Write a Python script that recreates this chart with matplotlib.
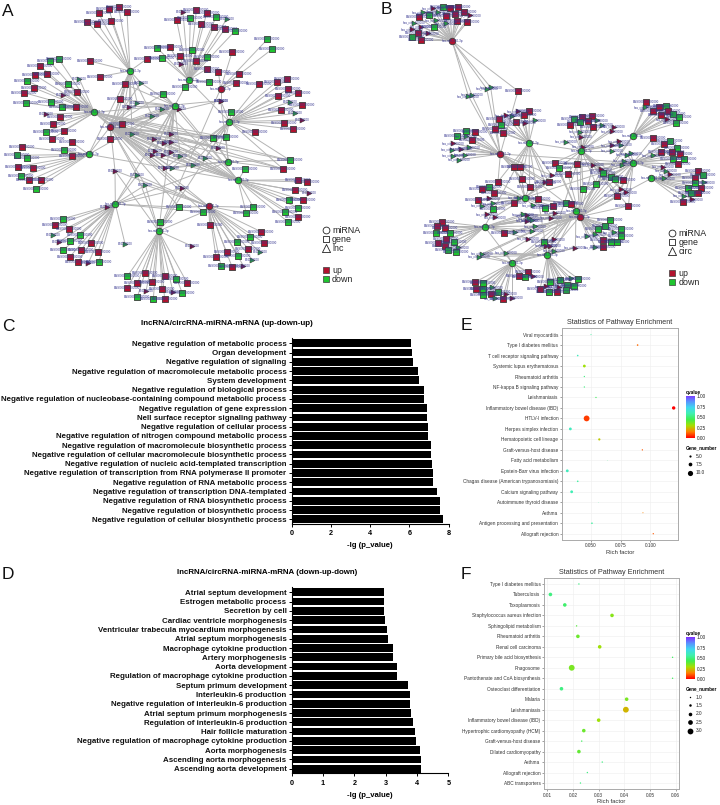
"""
Network panels A/B, GO bar panels C/D and pathway bubble panels E/F
"""
import matplotlib
matplotlib.use("Agg")
import matplotlib.pyplot as plt
from matplotlib.colors import LinearSegmentedColormap
import numpy as np

plt.rcParams["font.family"] = ["Liberation Sans", "DejaVu Sans"]

W, H = 720, 805

# Network A: hubs (x, y, colour), layout units are 3 per image pixel
A_HUBS = [(390, 213, "g"), (566, 240, "g"), (662, 266, "r"), (524, 317, "g"), (283, 337, "g"),
          (688, 365, "g"), (331, 380, "r"), (266, 463, "g"), (685, 485, "g"), (714, 541, "g"),
          (346, 612, "g"), (626, 619, "r"), (476, 693, "g")]
# groups of (hubs, leaves); a leaf is (x, y, shape+colour)
A_TOP = [(356, 22, "sr"), (326, 28, "sr"), (381, 36, "sr"), (296, 40, "sr"), (334, 62, "sr"), (262, 65, "sr"),
         (292, 71, "sr"), (269, 183, "sr"), (299, 230, "sr"), (440, 177, "sr")]
A_TOP_RIGHT = [(549, 37, "tr"), (589, 31, "sr"), (620, 40, "sr"), (571, 55, "sg"), (648, 51, "sg"), (680, 57, "tg"),
               (530, 61, "sr"), (604, 71, "sr"), (641, 82, "sr"), (674, 88, "sr"), (704, 94, "sg"), (472, 144, "sg"),
               (510, 141, "sr"), (575, 151, "sg"), (539, 167, "sr"), (487, 173, "sg"), (622, 172, "sg"), (587, 183, "sr"),
               (544, 193, "tr"), (620, 207, "sr"), (627, 247, "sg"), (554, 260, "sg")]
A_RED_HUB = [(802, 118, "sg"), (817, 147, "sg"), (696, 157, "sr"), (655, 215, "sr"), (717, 223, "sr"), (709, 249, "sr"),
             (662, 302, "tr")]
A_RIGHT = [(778, 253, "sr"), (830, 245, "sr"), (862, 238, "sr"), (864, 268, "sr"), (893, 278, "sr"), (835, 288, "sr"),
           (870, 306, "tg"), (905, 315, "sr"), (844, 331, "sr"), (884, 340, "tg"), (906, 360, "tr"), (853, 370, "sr"),
           (880, 388, "sr"), (766, 396, "sr"), (694, 336, "sg")]
A_LEFT = [(176, 176, "sg"), (149, 184, "sg"), (119, 197, "sr"), (106, 226, "sr"), (141, 223, "sr"), (82, 243, "sg"),
          (238, 237, "tg"), (205, 253, "sg"), (103, 264, "sr"), (72, 278, "sr"), (231, 275, "sr"), (190, 285, "tr"),
          (77, 308, "sg"), (154, 307, "sg"), (185, 321, "sg"), (227, 321, "sr"), (137, 343, "tr"), (179, 350, "sr"),
          (158, 372, "sr"), (139, 395, "sg"), (191, 392, "sr"), (155, 417, "sr")]
A_LOWER_LEFT = [(216, 427, "sr"), (66, 440, "sr"), (191, 451, "sg"), (217, 469, "sr"), (50, 466, "sg"), (82, 475, "sg"),
                (54, 500, "sr"), (98, 505, "sr"), (64, 529, "sg"), (88, 541, "sr"), (124, 541, "sr"), (107, 568, "sg")]
A_BOTTOM_LEFT = [(322, 620, "tr"), (190, 656, "sg"), (165, 676, "sr"), (208, 686, "sr"), (160, 704, "tg"), (241, 704, "sg"),
                 (211, 723, "sg"), (176, 727, "tr"), (273, 730, "sr"), (190, 750, "sg"), (243, 750, "sr"), (294, 755, "sr"),
                 (210, 770, "sr"), (235, 785, "sr"), (265, 789, "tr"), (297, 785, "sg"), (375, 731, "tg")]
A_BOTTOM = [(481, 667, "sg"), (577, 739, "tr"), (382, 829, "sg"), (434, 820, "sr"), (494, 828, "sr"), (529, 837, "sg"),
            (561, 848, "sr"), (412, 850, "sr"), (457, 846, "sr"), (381, 865, "sr"), (486, 866, "sr"), (438, 873, "tr"),
            (519, 875, "tr"), (547, 880, "sg"), (412, 891, "sg"), (460, 896, "sg"), (494, 898, "sr")]
A_BOTTOM_RIGHT = [(629, 675, "sr"), (783, 695, "sr"), (751, 711, "sg"), (791, 728, "sr"), (712, 727, "sg"), (745, 746, "sr"),
                  (680, 757, "sr"), (781, 757, "tg"), (714, 767, "sg"), (648, 772, "sr"), (757, 779, "tg"), (663, 799, "sg"),
                  (696, 800, "sr"), (730, 797, "tr")]
A_LOW_RIGHT = [(893, 539, "sr"), (920, 546, "sr"), (884, 571, "sr"), (928, 579, "tr"), (867, 600, "sg"), (908, 600, "sr"),
               (895, 624, "sg"), (855, 635, "sg"), (895, 651, "sr"), (865, 667, "sg"), (735, 508, "sg")]
A_CENTRE_1 = [(374, 252, "sr"), (423, 249, "tg"), (361, 298, "sr"), (412, 310, "tg"), (388, 320, "tr"), (457, 347, "tg"),
              (365, 373, "sr"), (396, 402, "tg"), (331, 418, "sr")]
A_CENTRE_2 = [(486, 326, "tg"), (538, 326, "tr"), (490, 282, "sg"), (462, 416, "tr"), (512, 403, "tr"), (493, 430, "tr"),
              (512, 425, "tr"), (464, 454, "tr"), (456, 466, "tr"), (490, 466, "tr"), (512, 457, "tr"), (541, 469, "tg")]
A_CENTRE_3 = [(662, 302, "tr"), (655, 444, "tr"), (640, 414, "sg"), (678, 412, "sg"), (616, 473, "tg"), (578, 494, "tg"),
              (496, 503, "tr"), (516, 504, "tg"), (870, 481, "sg"), (848, 506, "sr")]
A_CENTRE_4 = [(345, 512, "tr"), (411, 526, "tg"), (436, 555, "tg"), (546, 565, "tr"), (538, 622, "sg"), (610, 636, "sg")]
A_LOW_MID = [(760, 622, "sg"), (739, 640, "sg")]
A_GROUPS = [((0,), A_TOP), ((1,), A_TOP_RIGHT), ((2,), A_RED_HUB), ((5,), A_RIGHT), ((4,), A_LEFT), ((7,), A_LOWER_LEFT),
            ((10,), A_BOTTOM_LEFT), ((12,), A_BOTTOM), ((11,), A_BOTTOM_RIGHT), ((9,), A_LOW_RIGHT), ((0, 6, 3), A_CENTRE_1),
            ((3, 6, 9), A_CENTRE_2), ((5, 8, 6, 4), A_CENTRE_3), ((6, 10, 12, 11), A_CENTRE_4), ((9, 11), A_LOW_MID)]
A_HUB_LINKS = [(3, 1), (3, 7), (6, 7), (6, 4), (6, 11), (3, 10), (3, 12), (4, 9), (0, 7), (1, 5), (2, 12), (7, 9), (10, 8), (5, 12)]

# Network B
B_HUBS = [(276, 122, "r"), (507, 428, "g"), (421, 462, "r"), (664, 452, "g"), (818, 409, "g"), (820, 488, "g"),
          (874, 535, "g"), (494, 593, "g"), (648, 633, "g"), (659, 650, "r"), (374, 680, "g"), (456, 788, "g"), (562, 766, "g")]
B_TOP = [(293, 22, "sr"), (248, 20, "sg"), (269, 25, "sr"), (218, 24, "tr"), (234, 35, "tg"), (311, 36, "sr"), (208, 45, "sg"),
         (176, 52, "sr"), (258, 47, "sr"), (285, 42, "sr"), (330, 45, "tr"), (190, 36, "tg"), (228, 60, "tg"), (163, 68, "tg"),
         (258, 70, "tg"), (292, 63, "sr"), (322, 66, "sr"), (223, 81, "sg"), (155, 88, "tr"), (184, 80, "tr"), (175, 98, "sr"),
         (205, 100, "tr"), (157, 112, "sg"), (183, 121, "sr")]
B_LINK_TOP = [(392, 262, "tg"), (380, 266, "tg"), (474, 273, "sr"), (325, 288, "tg"), (335, 284, "tg")]
B_CL_1 = [(508, 332, "sr"), (475, 334, "tr"), (456, 347, "tg"), (437, 346, "tr"), (492, 345, "sr"), (417, 358, "sr"),
          (467, 365, "sr"), (524, 360, "tg"), (494, 368, "tr"), (423, 376, "sg"), (406, 388, "sr"), (430, 400, "sr")]
B_CL_3 = [(642, 356, "sg"), (666, 350, "sr"), (697, 348, "sr"), (685, 362, "sr"), (661, 367, "sg"), (712, 360, "tg"),
          (630, 374, "sr"), (700, 380, "sr"), (727, 374, "tg"), (762, 380, "tr"), (755, 394, "tr"), (661, 395, "tg"),
          (664, 410, "tr"), (670, 440, "tr"), (619, 425, "tg"), (757, 436, "tr"), (778, 423, "tr"), (783, 434, "tg"), (757, 452, "tg")]
B_CL_4 = [(857, 306, "sr"), (855, 322, "tg"), (896, 322, "sr"), (917, 319, "sg"), (878, 333, "sr"), (924, 333, "sr"),
          (902, 344, "sr"), (940, 343, "sg"), (956, 352, "sg"), (922, 358, "tr"), (947, 370, "sg")]
B_CL_5 = [(879, 415, "sr"), (911, 432, "sr"), (931, 423, "sg"), (952, 445, "sg"), (903, 456, "sr"), (936, 456, "sr"),
          (959, 463, "sr"), (880, 466, "tg"), (939, 477, "sg"), (972, 476, "sg"), (955, 492, "sr"), (800, 464, "tg"),
          (812, 460, "tg"), (792, 482, "tg"), (787, 494, "tg"), (908, 500, "tr"), (918, 512, "tg"), (931, 522, "tr")]
B_CL_6 = [(1015, 514, "sr"), (1029, 526, "sg"), (1005, 533, "sr"), (1032, 546, "tg"), (1004, 550, "sg"), (1022, 563, "sr"),
          (985, 563, "sg"), (992, 580, "sg"), (1015, 579, "sr"), (971, 587, "tg"), (997, 598, "tr"), (969, 605, "sr"), (912, 534, "tg")]
B_CL_2 = [(318, 392, "sg"), (345, 396, "sr"), (290, 409, "sg"), (318, 408, "tg"), (337, 421, "sr"), (280, 430, "tr"),
          (326, 441, "tg"), (302, 446, "tr"), (277, 449, "tg"), (280, 467, "tg"), (314, 464, "tg"), (298, 479, "tg")]
B_CENTRE_1 = [(462, 501, "sr"), (480, 501, "sr"), (485, 538, "sr"), (414, 545, "sr"), (509, 561, "sr"), (566, 547, "sr"),
              (555, 547, "tr"), (575, 526, "tr")]
B_CENTRE_2 = [(584, 488, "sr"), (596, 505, "sg"), (650, 492, "sr"), (700, 494, "tr"), (724, 508, "tr"), (728, 518, "sg"),
              (624, 523, "sr"), (708, 551, "sg"), (752, 531, "sg"), (764, 538, "sg"), (788, 540, "sr"), (669, 568, "sg"),
              (770, 588, "sr"), (783, 568, "tr"), (797, 577, "tr"), (805, 618, "sr")]
B_CL_7 = [(387, 561, "sg"), (367, 567, "sr"), (402, 578, "sr"), (388, 595, "tr"), (354, 600, "sr"), (400, 610, "tg"),
          (366, 617, "tg"), (398, 628, "sg"), (380, 642, "tr"), (404, 651, "tr"), (463, 610, "sr"), (478, 593, "tg"),
          (533, 596, "sr"), (518, 616, "tg"), (556, 624, "sg"), (579, 618, "sr"), (617, 608, "sg"), (632, 612, "sr")]
B_CL_9 = [(585, 638, "tr"), (573, 653, "tr"), (502, 645, "tr"), (490, 642, "tg"), (500, 662, "tr"), (508, 655, "tg"),
          (516, 660, "tg"), (526, 678, "tg"), (516, 692, "tg"), (465, 695, "tg"), (431, 698, "sr"), (505, 716, "tr")]
B_CL_10 = [(247, 666, "sr"), (231, 679, "sr"), (255, 685, "sr"), (228, 698, "sg"), (270, 700, "sg"), (257, 718, "sr"),
           (281, 725, "sg"), (235, 728, "sr"), (254, 738, "sr"), (293, 742, "tg"), (265, 750, "sg"), (289, 757, "sg")]
B_LOW_MID = [(552, 726, "sg"), (583, 718, "tr"), (571, 737, "tr"), (558, 737, "tr"), (646, 743, "tr"), (583, 752, "tg"),
             (438, 758, "tg"), (367, 761, "tg"), (358, 770, "tg")]
B_RIGHT_LOW = [(749, 660, "sg"), (736, 677, "sg"), (715, 686, "sg"), (762, 697, "tg"), (783, 686, "sg"), (783, 707, "sg"),
               (706, 703, "tg"), (682, 708, "tg"), (729, 721, "sr"), (770, 725, "sg"), (752, 727, "sg"), (706, 741, "tg"),
               (728, 740, "sr")]
B_BOTTOM_1 = [(504, 816, "sr"), (477, 827, "sr"), (495, 830, "sg"), (520, 829, "tr"), (344, 847, "sr"), (369, 848, "sg"),
              (349, 866, "sr"), (369, 866, "sg"), (370, 884, "sg"), (392, 883, "sr"), (415, 877, "sg"), (397, 862, "tg"),
              (439, 881, "tr"), (428, 897, "sr"), (456, 893, "tr"), (405, 895, "tg")]
B_BOTTOM_2 = [(571, 847, "sg"), (599, 841, "sg"), (632, 835, "tg"), (655, 837, "sg"), (620, 854, "sg"), (643, 857, "sg"),
              (558, 858, "tr"), (596, 860, "tr"), (540, 868, "sr"), (567, 875, "sg"), (592, 877, "sr"), (619, 870, "sg")]
B_GROUPS = [((0,), B_TOP), ((0, 2), B_LINK_TOP), ((1,), B_CL_1), ((3,), B_CL_3), ((4,), B_CL_4), ((5,), B_CL_5), ((6,), B_CL_6),
            ((2,), B_CL_2), ((1, 2, 7), B_CENTRE_1), ((3, 9, 5), B_CENTRE_2), ((7,), B_CL_7), ((9, 10), B_CL_9), ((10,), B_CL_10),
            ((12, 11, 8), B_LOW_MID), ((9,), B_RIGHT_LOW), ((11,), B_BOTTOM_1), ((12,), B_BOTTOM_2)]
B_HUB_LINKS = [(1, 3), (1, 10), (2, 5), (2, 8), (3, 9), (4, 9), (5, 7), (6, 9), (8, 11), (9, 12), (1, 12), (10, 11), (4, 8), (3, 12)]

# Panel C
C_TERMS = ["Negative regulation of metabolic process", "Organ development", "Negative regulation of signaling",
           "Negative regulation of macromolecule metabolic process", "System development",
           "Negative regulation of biological process",
           "Negative regulation of nucleobase-containing compound metabolic process",
           "Negative regulation of gene expression", "Nell surface receptor signaling pathway",
           "Negative regulation of cellular process", "Negative regulation of nitrogen compound metabolic process",
           "Negative regulation of macromolecule biosynthetic process",
           "Negative regulation of cellular macromolecule biosynthetic process",
           "Negative regulation of nucleic acid-templated transcription",
           "Negative regulation of transcription from RNA polymerase II promoter",
           "Negative regulation of RNA metabolic process", "Negative regulation of transcription DNA-templated",
           "Negative regulation of RNA biosynthetic process", "Negative regulation of biosynthetic process",
           "Negative regulation of cellular biosynthetic process"]
C_VALUES = [6.08, 6.13, 6.2, 6.44, 6.47, 6.73, 6.76, 6.9, 6.91, 6.93, 6.95, 7.08, 7.12, 7.15, 7.18, 7.22, 7.4, 7.56, 7.58, 7.73]

# Panel D
D_TERMS = ["Atrial septum development", "Estrogen metabolic process", "Secretion by cell", "Cardiac ventricle morphogenesis",
           "Ventricular trabecula myocardium morphogenesis", "Atrial septum morphogenesis", "Macrophage cytokine production",
           "Artery morphogenesis", "Aorta development", "Regulation of macrophage cytokine production",
           "Septum primum development", "Interleukin-6 production", "Negative regulation of interleukin-6 production",
           "Atrial septum primum morphogenesis", "Regulation of interleukin-6 production", "Hair follicle maturation",
           "Negative regulation of macrophage cytokine production", "Aorta morphogenesis", "Ascending aorta morphogenesis",
           "Ascending aorta development"]
D_VALUES = [2.94, 2.96, 2.96, 2.99, 3.03, 3.07, 3.22, 3.24, 3.37, 3.37, 3.71, 3.79, 3.79, 3.8, 3.87, 3.95, 3.97, 4.1, 4.14, 4.14]

# Panel E
E_PATHWAYS = ["Viral myocarditis", "Type I diabetes mellitus", "T cell receptor signaling pathway", "Systemic lupus erythematosus",
              "Rheumatoid arthritis", "NF-kappa B signaling pathway", "Leishmaniasis", "Inflammatory bowel disease (IBD)",
              "HTLV-I infection", "Herpes simplex infection", "Hematopoietic cell lineage", "Graft-versus-host disease",
              "Fatty acid metabolism", "Epstein-Barr virus infection", "Chagas disease (American trypanosomiasis)",
              "Calcium signaling pathway", "Autoimmune thyroid disease", "Asthma", "Antigen processing and presentation",
              "Allograft rejection"]
E_RICH = [0.05, 0.0893, 0.0388, 0.0444, 0.0444, 0.0444, 0.0542, 0.1197, 0.0463, 0.0326, 0.057, 0.0933, 0.064, 0.03, 0.0388,
          0.0337, 0.0562, 0.0938, 0.0508, 0.1025]
E_QVALUE = [0.55, 0.12, 0.6, 0.3, 0.5, 0.5, 0.45, 0.0, 0.07, 0.6, 0.25, 0.1, 0.5, 0.6, 0.55, 0.58, 0.55, 0.15, 0.55, 0.1]
E_GENES = [3, 4, 4, 6, 3.5, 3.5, 3.5, 7, 11, 6, 5, 3.5, 2, 6, 4, 6, 2, 3, 4, 3.5]
E_LEGEND = [5.0, 7.5, 10.0]

# Panel F
F_PATHWAYS = ["Type I diabetes mellitus", "Tuberculosis", "Toxoplasmosis", "Staphylococcus aureus infection",
              "Sphingolipid metabolism", "Rheumatoid arthritis", "Renal cell carcinoma", "Primary bile acid biosynthesis",
              "Phagosome", "Pantothenate and CoA biosynthesis", "Osteoclast differentiation", "Malaria", "Leishmaniasis",
              "Inflammatory bowel disease (IBD)", "Hypertrophic cardiomyopathy (HCM)", "Graft-versus-host disease",
              "Dilated cardiomyopathy", "Asthma", "Allograft rejection", "ABC transporters"]
F_RICH = [0.0223, 0.0112, 0.0168, 0.0352, 0.0214, 0.0219, 0.0304, 0.0588, 0.0195, 0.0588, 0.0155, 0.0409, 0.0406, 0.03, 0.0242,
          0.0234, 0.0223, 0.0314, 0.0256, 0.0229]
F_QVALUE = [0.5, 0.5, 0.47, 0.33, 0.4, 0.37, 0.3, 0.45, 0.35, 0.45, 0.5, 0.35, 0.22, 0.3, 0.37, 0.45, 0.38, 0.5, 0.5, 0.5]
F_GENES = [1, 2, 2, 2, 1, 2, 2, 1, 3, 1, 2, 2, 3, 2, 2, 1, 2, 1, 1, 1]
F_LEGEND = [1.0, 1.5, 2.0, 2.5, 3.0]

# The gene ids in the networks cannot be read in the reference, these are placeholders
ENSG_LABEL = "ENSG00000000000"
LNC_LABEL = "LINC00000"
CIRC_LABEL = "hsa_circ_000000"
HUB_LABEL = "hsa-miR-000-3p"

RED = "#b0122e"
GREEN = "#1fc42f"
MAROON = "#7d0f3f"
DARK_GREEN = "#2a9a4a"
EDGE = "#3c3c3c"
LINE = "#b4b4b4"
LABEL = "#35358f"

qcmap = LinearSegmentedColormap.from_list(
    "q", ["#ff0000", "#ff8000", "#a8e000", "#40ee50", "#40f0b0", "#40d8f0", "#5a90ff", "#8030ff"])

fig = plt.figure(figsize=(W / 100, H / 100), dpi=100)


def px_axes(left, top, right, bottom):
    return fig.add_axes([left / W, 1 - bottom / H, (right - left) / W, (bottom - top) / H])


def draw_network(ax, hubs, groups, links, tri_label):
    for a, b in links:
        ax.plot([hubs[a][0], hubs[b][0]], [hubs[a][1], hubs[b][1]], color=LINE, lw=0.7, zorder=1)
    for hub_ids, leaves in groups:
        for x, y, kind in leaves:
            for h in hub_ids:
                ax.plot([hubs[h][0], x], [hubs[h][1], y], color=LINE, lw=0.7, zorder=1)
    for hub_ids, leaves in groups:
        for x, y, kind in leaves:
            if kind[0] == "s":
                ax.scatter(x, y, s=22, marker="s", zorder=3, linewidths=0.6, edgecolors=EDGE,
                           color=RED if kind[1] == "r" else GREEN)
                ax.text(x, y, ENSG_LABEL, fontsize=2.2, color=LABEL, ha="center", va="center", zorder=4)
            else:
                ax.scatter(x, y, s=13, marker=">", zorder=3, linewidths=0.4, edgecolors=EDGE,
                           color=MAROON if kind[1] == "r" else DARK_GREEN)
                ax.text(x, y, tri_label, fontsize=2.2, color=LABEL, ha="center", va="center", zorder=4)
    for x, y, c in hubs:
        ax.scatter(x, y, s=22, marker="o", zorder=5, linewidths=0.6, edgecolors=EDGE,
                   color=RED if c == "r" else GREEN)
        ax.text(x, y, HUB_LABEL, fontsize=2.2, color=LABEL, ha="center", va="center", zorder=6)
    ax.set_xlim(0, 1080)
    ax.set_ylim(930, 0)
    ax.axis("off")


def network_legend(ax, x, ys, names):
    markers = ["o", "s", "^"]
    for y, m, name in zip(ys[:3], markers, names):
        ax.scatter(x, y, s=34 if m == "^" else 24, marker=m, facecolors="white", edgecolors="#222222",
                   linewidths=0.6, zorder=7)
        ax.text(x + 19, y, name, fontsize=6.4, color="#222222", va="center", zorder=7)
    for y, c, name in zip(ys[3:], [RED, GREEN], ["up", "down"]):
        ax.scatter(x, y, s=15, marker="s", color=c, edgecolors=EDGE, linewidths=0.5, zorder=7)
        ax.text(x + 19, y, name, fontsize=6.4, color="#222222", va="center", zorder=7)


def bar_panel(ax, terms, values, xmax, xticks, ylim):
    pos = np.arange(len(terms))
    ax.barh(pos, values, height=0.84, color="black")
    ax.set_yticks(pos)
    ax.set_yticklabels(terms, fontsize=5.63, fontweight="bold", color="#111111")
    ax.set_xticks(xticks)
    ax.set_xticklabels([str(t) for t in xticks], fontsize=5.2, fontweight="bold")
    ax.set_xlim(0, xmax)
    ax.set_ylim(*ylim)
    ax.tick_params(axis="both", length=2.2, width=0.7)
    ax.tick_params(axis="x", pad=2.5)
    ax.tick_params(axis="y", pad=1.5)
    ax.spines["top"].set_visible(False)
    ax.spines["right"].set_visible(False)
    ax.spines["left"].set_linewidth(0.8)
    ax.spines["bottom"].set_linewidth(0.8)
    ax.set_xlabel("-lg (p_value)", fontsize=5.6, fontweight="bold", labelpad=3.5)


def dot_size(n, k, c):
    return (np.maximum(k * np.asarray(n, dtype=float) + c, 0.5) * 0.72) ** 2


def bubble_panel(ax, names, rich, q, genes, xlim, xticks, xfmt, k, c):
    pos = np.arange(len(names))
    ax.set_facecolor("white")
    ax.grid(color="#eeeeee", lw=0.4)
    ax.set_axisbelow(True)
    ax.scatter(rich, pos, c=q, cmap=qcmap, vmin=0, vmax=1, s=dot_size(genes, k, c), linewidths=0, zorder=3)
    ax.set_yticks(pos)
    ax.set_yticklabels(names, fontsize=3.4, color="#333333")
    ax.set_xticks(xticks)
    ax.set_xticklabels([xfmt % t for t in xticks], fontsize=3.4, color="#333333")
    ax.set_xlim(*xlim)
    ax.set_ylim(len(names) - 0.4, -0.6)
    ax.tick_params(axis="both", length=1.5, width=0.4, color="#555555", pad=1)
    for s in ax.spines.values():
        s.set_color("#aaaaaa")
        s.set_linewidth(0.7)
    ax.set_title("Statistics of Pathway Enrichment", fontsize=5.2, color="#333333", pad=3)
    ax.set_xlabel("Rich factor", fontsize=4.2, color="#333333", labelpad=1)


def qvalue_bar(top, bottom):
    cax = px_axes(685.7, top, 694.3, bottom)
    grad = np.linspace(1, 0, 128).reshape(-1, 1)
    cax.imshow(grad, cmap=qcmap, aspect="auto", extent=[0, 1, 0, 1], vmin=0, vmax=1)
    cax.set_xticks([])
    cax.yaxis.tick_right()
    cax.set_yticks([0, 0.25, 0.5, 0.75, 1.0])
    cax.set_yticklabels(["0.00", "0.25", "0.50", "0.75", "1.00"], fontsize=3.4, color="#222222")
    cax.tick_params(axis="y", length=0, pad=1.5)
    for s in cax.spines.values():
        s.set_visible(False)


# panels A and B
ax_a = px_axes(0, 0, 360, 310)
draw_network(ax_a, A_HUBS, A_GROUPS, A_HUB_LINKS, LNC_LABEL)
network_legend(ax_a, 977, [690, 717, 745, 810, 837], ["miRNA", "gene", "lnc"])

ax_b = px_axes(360, 0, 720, 310)
draw_network(ax_b, B_HUBS, B_GROUPS, B_HUB_LINKS, CIRC_LABEL)
network_legend(ax_b, 937, [699, 727, 754, 819, 846], ["miRNA", "gene", "circ"])

# panels C and D
ax_c = px_axes(291.7, 338, 448.7, 523.7)
bar_panel(ax_c, C_TERMS, C_VALUES, 8, [0, 2, 4, 6, 8], (19.475, -0.572))
ax_d = px_axes(291.7, 587.3, 448.3, 773.3)
bar_panel(ax_d, D_TERMS, D_VALUES, 5, [0, 1, 2, 3, 4, 5], (19.495, -0.54))

# panels E and F
ax_e = px_axes(561.7, 328.3, 678.3, 540)
bubble_panel(ax_e, E_PATHWAYS, E_RICH, E_QVALUE, E_GENES, (0.0253, 0.1236), [0.05, 0.075, 0.1], "%.3f", 0.6, -0.8)
ax_f = px_axes(544, 577.7, 679, 789.3)
bubble_panel(ax_f, F_PATHWAYS, F_RICH, F_QVALUE, F_GENES, (0.0087, 0.0613), [0.01, 0.02, 0.03, 0.04, 0.05, 0.06], "%.2f", 2.2, -0.8)
qvalue_bar(396, 438.3)
qvalue_bar(637.3, 679)

# text and legends placed on an overlay in image pixels
over = fig.add_axes([0, 0, 1, 1], facecolor="none")
over.set_xlim(0, W)
over.set_ylim(H, 0)
over.axis("off")

for letter, x, y in [("A", 2, 11), ("B", 381, 9), ("C", 2, 326), ("D", 2, 574), ("E", 461, 325), ("F", 461, 574)]:
    over.text(x, y, letter, fontsize=12.5, color="#111111", va="center")

over.text(226.7, 323, "lncRNA/circRNA-miRNA-mRNA (up-down-up)", fontsize=5.75, fontweight="bold", ha="center", va="center")
over.text(266.7, 572, "lncRNA/circRNA-miRNA-mRNA (down-up-down)", fontsize=5.7, fontweight="bold", ha="center", va="center")

for title_y, gene_y, legend_y, legend_vals, k in [
    (392.3, 447.7, [456, 464.3, 472.7], E_LEGEND, 0.6),
    (633.7, 689, [697, 705.3, 713.7, 722, 730.7], F_LEGEND, 2.2),
]:
    over.text(685.7, title_y, "qvalue", fontsize=3.4, fontweight="bold", va="center")
    over.text(685.7, gene_y, "Gene_number", fontsize=3.3, fontweight="bold", va="center")
    for y, val in zip(legend_y, legend_vals):
        over.scatter(690, y, s=dot_size(val, k, -0.8), color="black", linewidths=0)
        over.text(696, y, "%.1f" % val, fontsize=3.4, color="#222222", va="center")

fig.savefig("out.png", dpi=100)
